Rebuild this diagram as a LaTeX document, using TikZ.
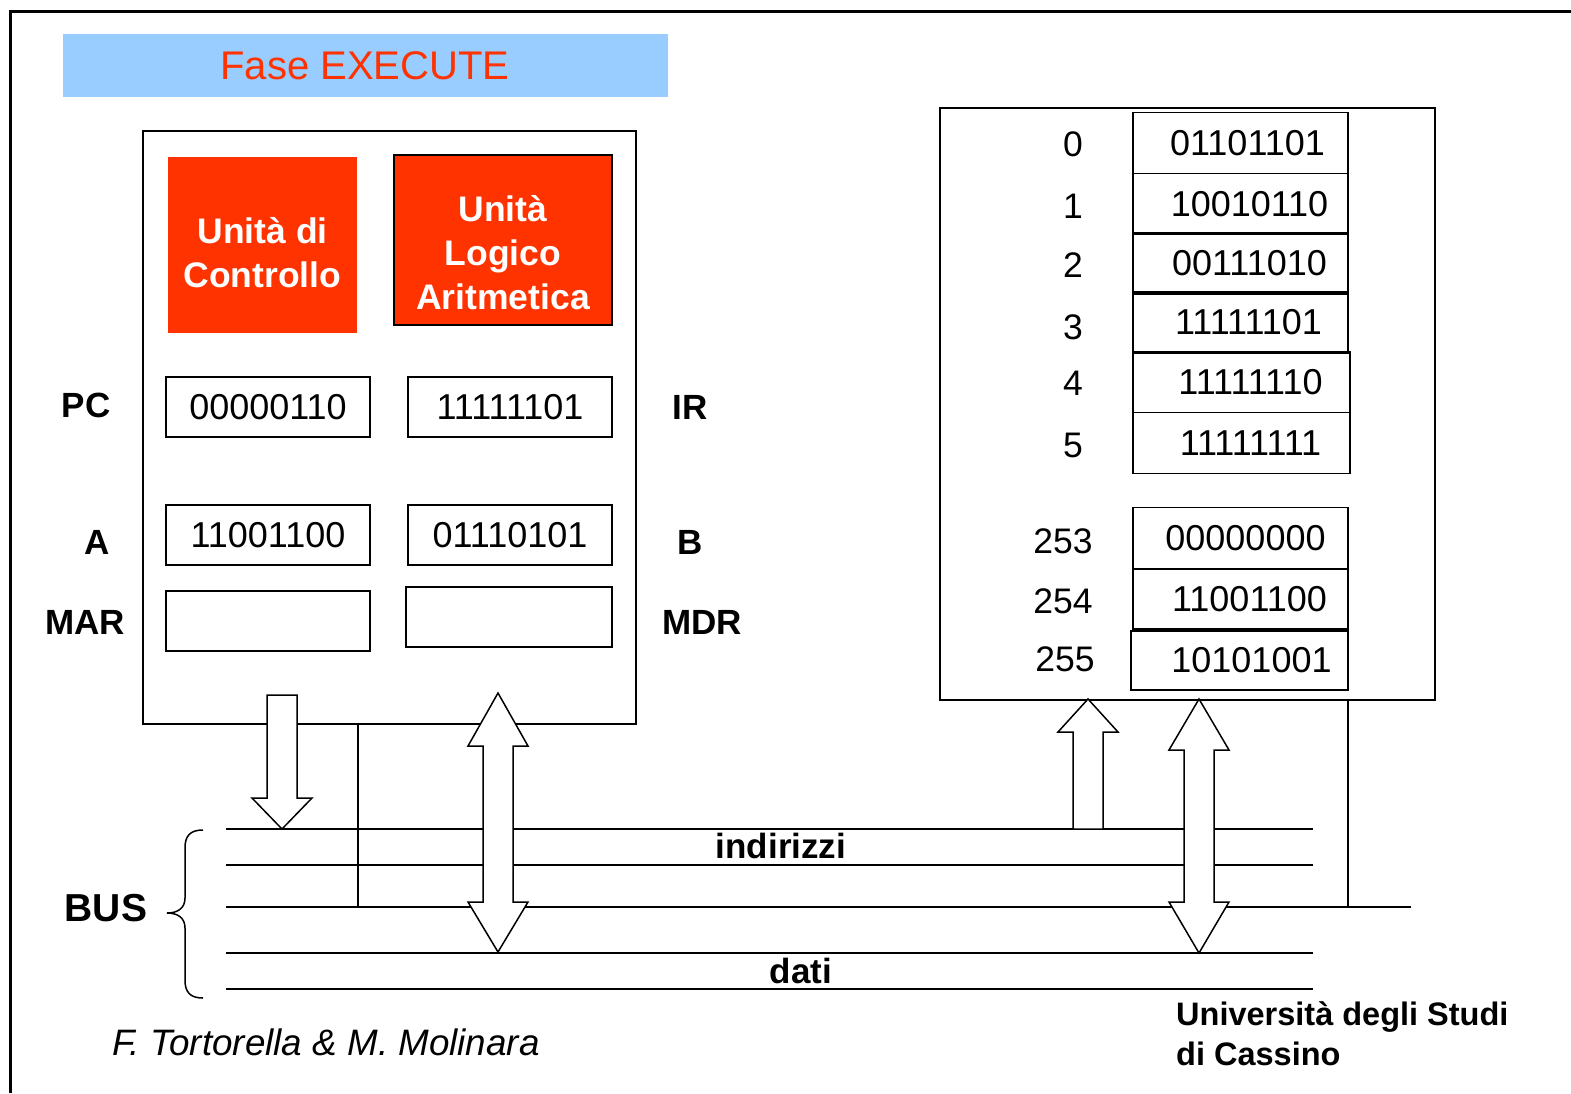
\documentclass[tikz,border=0pt]{standalone}
\usepackage{fontspec}
\setmainfont{Liberation Sans}
\usetikzlibrary{calc}
\definecolor{titlebg}{HTML}{99CCFF}
\definecolor{unitred}{HTML}{FF3300}
\tikzset{
  box/.style={draw, line width=1.5pt, inner sep=0pt, outer sep=0pt},
  plainbox/.style={inner sep=0pt, outer sep=0pt},
  reg/.style={box, minimum width=204pt, minimum height=60pt, font=\fontsize{36}{42}\selectfont},
  cell/.style={box, minimum width=215pt, minimum height=61pt, font=\fontsize{36}{42}\selectfont},
  lbl/.style={inner sep=0pt, font=\bfseries\fontsize{35}{42}\selectfont},
  addr/.style={inner sep=0pt, font=\fontsize{35.5}{42}\selectfont},
  unittext/.style={inner sep=0pt, align=center, text=white, font=\bfseries\fontsize{35.5}{44}\selectfont},
  busline/.style={line width=2pt},
  blockarrow/.style={draw, fill=white, line width=1.5pt, line join=miter},
}
\begin{document}
\begin{tikzpicture}[x=1pt,y=-1pt]
\useasboundingbox (0,0) rectangle (1571,1093);

% outer frame (open on the right and at the bottom)
\draw[line width=3pt] (10.5,1093) -- (10.5,11.5) -- (1571,11.5);

% title
\node[plainbox, fill=titlebg, minimum width=605pt, minimum height=63pt] (title) at (365.5,65.5) {};
\node[inner sep=0pt, text=unitred, font=\fontsize{40}{48}\selectfont] (titletext) at (365,66) {Fase EXECUTE};

% bus lines
\coordinate (aL1) at (226,829);  \coordinate (aR1) at (1313,829);
\coordinate (aL2) at (226,865);  \coordinate (aR2) at (1313,865);
\coordinate (cL)  at (226,907);  \coordinate (cR)  at (1411,907);
\coordinate (dL1) at (226,953);  \coordinate (dR1) at (1313,953);
\coordinate (dL2) at (226,989);  \coordinate (dR2) at (1313,989);
\draw[busline] (aL1) -- (aR1);
\draw[busline] (aL2) -- (aR2);
\draw[busline] (cL) -- (cR);
\draw[busline] (dL1) -- (dR1);
\draw[busline] (dL2) -- (dR2);
\node[lbl] (lindirizzi) at (781,846) {indirizzi};
\node[lbl] (ldati) at (801,971) {dati};

% bus brace
\draw[line width=1.5pt] (203,830) .. controls (190,830) and (185,836) .. (185,848)
  -- (185,898) .. controls (185,908) and (178,913) .. (167,913)
  .. controls (178,913) and (185,918) .. (185,928)
  -- (185,980) .. controls (185,992) and (190,998) .. (203,998);
\node[inner sep=0pt, font=\bfseries\fontsize{39}{46}\selectfont] (lbus) at (106,908) {BUS};

% CPU
\node[box, minimum width=493pt, minimum height=593pt] (cpu) at (389.5,427.5) {};
\coordinate (cpuctl) at (358,724);
\draw[line width=1.5pt] (cpuctl) -- (cpuctl |- cL);

\node[plainbox, fill=unitred, minimum width=189pt, minimum height=176pt] (cu) at (262.5,245) {};
\node[unittext] (cutext) at ($(cu.center)+(0,8)$) {Unità di\\Controllo};
\node[box, fill=unitred, minimum width=218pt, minimum height=170pt] (alu) at (503,240) {};
\node[unittext] (alutext) at ($(alu.center)+(0,13)$) {Unità\\Logico\\Aritmetica};

\node[reg] (pc)  at (268,407) {00000110};
\node[reg] (ir)  at (510,407) {11111101};
\node[reg] (ra)  at (268,535) {11001100};
\node[reg] (rb)  at (510,535) {01110101};
\node[reg] (mar) at (268,621) {};
\node[box, minimum width=206pt, minimum height=60pt] (mdr) at (509,617) {};

\node[lbl] (lpc)  at (86,405)  {PC};
\node[lbl] (lir)  at (690,407) {IR};
\node[lbl] (la)   at (97,542)  {A};
\node[lbl] (lb)   at (690,542) {B};
\node[lbl] (lmar) at (85,622)  {MAR};
\node[lbl] (lmdr) at (702,622) {MDR};

% memory
\node[box, minimum width=495pt, minimum height=592pt] (mem) at (1187.5,404) {};
\coordinate (memctl) at (1348,700);
\draw[line width=1.5pt] (memctl) -- (memctl |- cR);

\node[cell] (m0) at (1240.5,143) {\hspace*{14pt}01101101};
\node[cell] (m1) at (1240.5,204) {\hspace*{18pt}10010110};
\node[cell] (m2) at (1240.5,263.5) {\hspace*{18pt}00111010};
\node[cell] (m3) at (1240.5,322.5) {\hspace*{16pt}11111101};
\node[cell, minimum width=217pt] (m4) at (1241.5,382) {\hspace*{18pt}11111110};
\node[cell, minimum width=217pt] (m5) at (1241.5,443) {\hspace*{18pt}11111111};
\node[cell] (m253) at (1240.5,538) {\hspace*{10pt}00000000};
\node[cell, minimum height=60pt] (m254) at (1240.5,599) {\hspace*{18pt}11001100};
\node[cell, minimum width=217pt, minimum height=59pt] (m255) at (1239.5,660.5) {\hspace*{24pt}10101001};
\draw[line width=3pt] (m254.south west) -- (m254.south east);

\node[addr] (a0)   at (1073,144) {0};
\node[addr] (a1)   at (1073,206) {1};
\node[addr] (a2)   at (1073,265) {2};
\node[addr] (a3)   at (1073,327) {3};
\node[addr] (a4)   at (1073,383) {4};
\node[addr] (a5)   at (1073,445) {5};
\node[addr] (a253) at (1063,541) {253};
\node[addr] (a254) at (1063,601) {254};
\node[addr] (a255) at (1065,659) {255};

% block arrows between units and bus
% MAR -> address bus
\draw[blockarrow] (267,695) -- (297,695) -- (297,798) -- (312,798) -- (282,829)
  -- (252,798) -- (267,798) -- cycle;
% CPU <-> data bus
\draw[blockarrow] (498,693) -- (528,746) -- (513,746) -- (513,902) -- (528,902) -- (498,952)
  -- (468,902) -- (483,902) -- (483,746) -- (468,746) -- cycle;
% address bus -> memory
\draw[blockarrow] (1088,699) -- (1118,732) -- (1103,732) -- (1103,829) -- (1073,829)
  -- (1073,732) -- (1058,732) -- cycle;
% memory <-> data bus
\draw[blockarrow] (1199,699) -- (1229,750) -- (1214,750) -- (1214,902) -- (1229,902) -- (1199,953)
  -- (1169,902) -- (1184,902) -- (1184,750) -- (1169,750) -- cycle;

% footer
\node[inner sep=0pt, anchor=west, font=\itshape\fontsize{36.8}{43}\selectfont] (authors) at (112,1042) {F. Tortorella \& M. Molinara};
\node[inner sep=0pt, anchor=north west, align=left, font=\bfseries\fontsize{32.5}{40}\selectfont] (univ) at (1176,1001) {Università degli Studi\\di Cassino};
\end{tikzpicture}
\end{document}
